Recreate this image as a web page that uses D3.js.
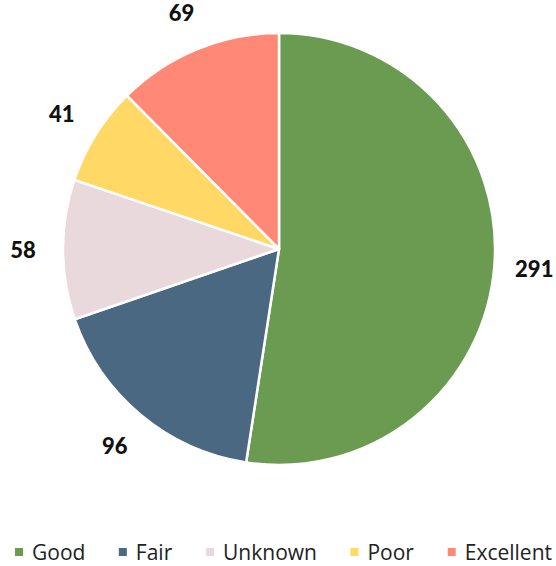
<!DOCTYPE html>
<html>
<head>
<meta charset="utf-8">
<script src="https://cdn.jsdelivr.net/npm/d3@7"></script>
<style>
  body { margin: 0; background: #fff; }
  svg { display: block; font-family: "Open Sans", Lato, sans-serif; }
  .value-label { font-family: Lato, sans-serif; font-weight: 900; font-size: 22px; fill: #111; }
  .legend-text { font-size: 21px; fill: #222; }
</style>
</head>
<body>
<div id="chart"></div>
<script>
const categories = ['Good', 'Fair', 'Unknown', 'Poor', 'Excellent'];
const counts = [291, 96, 58, 41, 69];
const colors = ['#6b9a51', '#4b6882', '#e9d9dc', '#ffd866', '#ff8877'];

const width = 556;
const height = 566;
const cx = 279;
const cy = 249;
const radius = 216;
const labelRadius = 256;

const svg = d3.select('#chart').append('svg')
  .attr('width', width)
  .attr('height', height);

const data = categories.map((name, i) => ({ name, value: counts[i], color: colors[i] }));

const pie = d3.pie()
  .value(d => d.value)
  .sort(null)
  .startAngle(0)
  .endAngle(2 * Math.PI);

const arcs = pie(data);
const arc = d3.arc().innerRadius(0).outerRadius(radius);
const labelArc = d3.arc().innerRadius(labelRadius).outerRadius(labelRadius);

const g = svg.append('g').attr('transform', `translate(${cx},${cy})`);

g.selectAll('path')
  .data(arcs)
  .join('path')
  .attr('d', arc)
  .attr('fill', d => d.data.color)
  .attr('stroke', '#fff')
  .attr('stroke-width', 2.5)
  .attr('stroke-linejoin', 'round');

g.selectAll('.value-label')
  .data(arcs)
  .join('text')
  .attr('class', 'value-label')
  .attr('transform', d => `translate(${labelArc.centroid(d)})`)
  .attr('text-anchor', 'middle')
  .attr('dominant-baseline', 'central')
  .text(d => d.data.value);

// legend, spread across the bottom
const legend = svg.append('g').attr('transform', 'translate(0,552)');
const items = legend.selectAll('g')
  .data(data)
  .join('g');

items.append('rect')
  .attr('width', 8)
  .attr('height', 8)
  .attr('y', -4)
  .attr('fill', d => d.color);

items.append('text')
  .attr('class', 'legend-text')
  .attr('x', 17)
  .attr('dominant-baseline', 'central')
  .text(d => d.name);

const left = 15;
const right = 552;
const widths = [];
items.each(function () { widths.push(this.getBBox().width); });
const gap = (right - left - d3.sum(widths)) / (widths.length - 1);
let x = left;
items.attr('transform', (d, i) => {
  const t = `translate(${x},0)`;
  x += widths[i] + gap;
  return t;
});
</script>
</body>
</html>
